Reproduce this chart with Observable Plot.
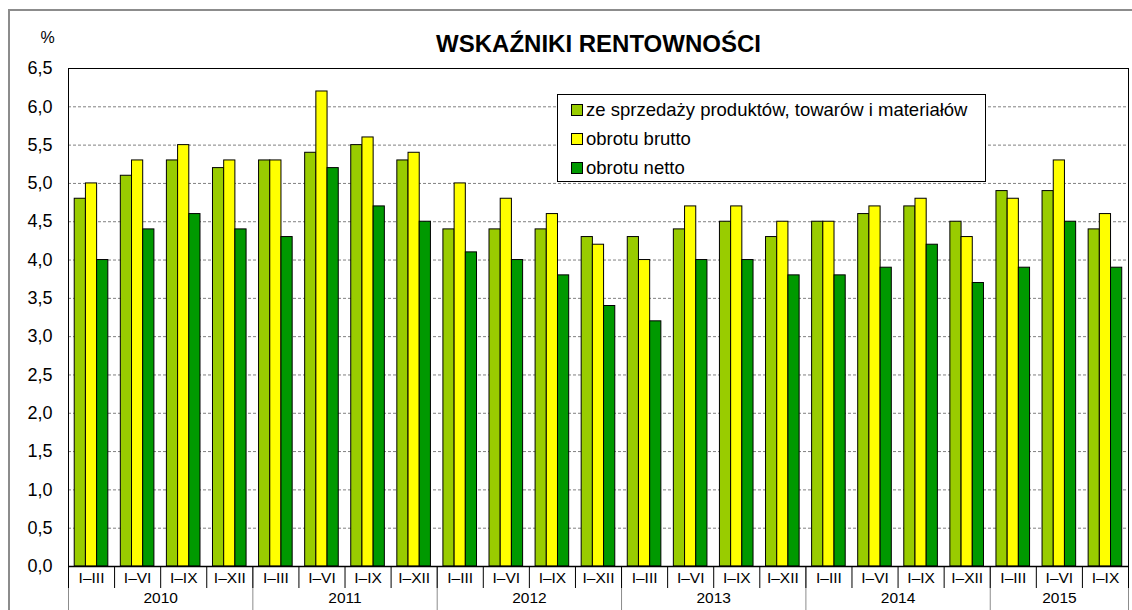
<!DOCTYPE html>
<html>
<head>
<meta charset="utf-8">
<script src="https://cdn.jsdelivr.net/npm/d3@7"></script>
<script src="https://cdn.jsdelivr.net/npm/@observablehq/plot@0.6"></script>
<style>
  html, body { margin: 0; padding: 0; background: #fff; }
  #wrap { position: relative; width: 1132px; height: 610px; overflow: hidden; font-family: "Liberation Sans", Arial, sans-serif; }
  #border { position: absolute; left: 8px; top: 9px; width: 1140px; height: 620px; border: 2px solid #8c8c8c; box-sizing: border-box; }
  #chart { position: absolute; left: 0; top: 0; }
  #legend { position: absolute; left: 557px; top: 94px; width: 429px; height: 88px; box-sizing: border-box;
            border: 1px solid #000; background: #fff; padding-top: 0px; }
  .row { height: 29px; display: flex; align-items: center; font-size: 18.5px; color: #000; padding-left: 13px; }
  .sw { width: 10px; height: 10px; border: 1px solid #000; margin-right: 3px; flex: none; }
</style>
</head>
<body>
<div id="wrap">
  <div id="border"></div>
  <div id="chart"></div>
  <div id="legend"></div>
</div>
<script>
const years = ["2010", "2011", "2012", "2013", "2014", "2015"];
const periodsPerYear = [4, 4, 4, 4, 4, 3];
const periodLabels = ["I–III", "I–VI", "I–IX", "I–XII"];
const seriesNames = ["ze sprzedaży produktów, towarów i materiałów", "obrotu brutto", "obrotu netto"];
const seriesColors = ["#99cc00", "#ffff00", "#009900"];
const sprzedaz = [4.8, 5.1, 5.3, 5.2, 5.3, 5.4, 5.5, 5.3, 4.4, 4.4, 4.4, 4.3, 4.3, 4.4, 4.5, 4.3, 4.5, 4.6, 4.7, 4.5, 4.9, 4.9, 4.4];
const brutto   = [5.0, 5.3, 5.5, 5.3, 5.3, 6.2, 5.6, 5.4, 5.0, 4.8, 4.6, 4.2, 4.0, 4.7, 4.7, 4.5, 4.5, 4.7, 4.8, 4.3, 4.8, 5.3, 4.6];
const netto    = [4.0, 4.4, 4.6, 4.4, 4.3, 5.2, 4.7, 4.5, 4.1, 4.0, 3.8, 3.4, 3.2, 4.0, 4.0, 3.8, 3.8, 3.9, 4.2, 3.7, 3.9, 4.5, 3.9];
const yTicks = [0, 0.5, 1, 1.5, 2, 2.5, 3, 3.5, 4, 4.5, 5, 5.5, 6, 6.5];
const title = "WSKAŹNIKI RENTOWNOŚCI";
const unit = "%";

// categories
const quarterLabels = [];
years.forEach((y, k) => { for (let j = 0; j < periodsPerYear[k]; j++) quarterLabels.push(periodLabels[j]); });
const n = quarterLabels.length;
const yearBounds = [0];
periodsPerYear.forEach(c => yearBounds.push(yearBounds[yearBounds.length - 1] + c));
const yearCenters = years.map((y, k) => (yearBounds[k] + yearBounds[k + 1]) / 2);
const quarterBounds = d3.range(0, n + 1);
const quarterCenters = d3.range(0, n).map(i => i + 0.5);

const seriesValues = [sprzedaz, brutto, netto];
const bars = [];
const groupOffset = 0.135, barW = 0.243;
seriesValues.forEach((vals, s) => vals.forEach((v, i) => {
  bars.push({series: seriesNames[s], x1: i + groupOffset + s * barW, x2: i + groupOffset + (s + 1) * barW, value: v});
}));

const fmt = v => d3.format(".1f")(v).replace(".", ",");

const chart = Plot.plot({
  width: 1132, height: 610,
  marginLeft: 68, marginRight: 4, marginTop: 68, marginBottom: 44,
  style: {fontFamily: "'Liberation Sans', Arial, sans-serif", background: "transparent", color: "#000"},
  x: {domain: [0, n], axis: null},
  y: {domain: [0, 6.5], axis: null},
  color: {domain: seriesNames, range: seriesColors},
  marks: [
    Plot.gridY(yTicks, {stroke: "#808080", strokeOpacity: 1, strokeDasharray: "3,2"}),
    Plot.rectY(bars, {x1: "x1", x2: "x2", y: "value", fill: "series", stroke: "#000", strokeWidth: 1}),
    Plot.axisY(yTicks, {tickSize: 0, tickPadding: 16, tickFormat: fmt, fontSize: 18, label: null}),
    Plot.axisX(yearBounds, {tickSize: 44, tickFormat: () => "", stroke: "#8c8c8c", label: null}),
    Plot.axisX(quarterBounds, {tickSize: 22, tickFormat: () => "", stroke: "#000", label: null}),
    Plot.axisX(quarterCenters, {tickSize: 0, tickPadding: 5, tickFormat: v => quarterLabels[Math.floor(v)], fontSize: 15.5, label: null}),
    Plot.axisX(yearCenters, {tickSize: 0, tickPadding: 25, tickFormat: v => years[yearCenters.indexOf(v)], fontSize: 15.5, label: null}),
    Plot.ruleY([0], {stroke: "#000", strokeWidth: 1.5}),
    Plot.frame({stroke: "#000"}),
    Plot.text([title], {frameAnchor: "top", dy: -24, lineAnchor: "middle", fontSize: 24, fontWeight: "bold", fill: "#000"}),
    Plot.text([unit], {frameAnchor: "top-left", dx: -21, dy: -30.5, lineAnchor: "middle", fontSize: 16, textAnchor: "middle", fill: "#000"})
  ]
});
document.getElementById("chart").appendChild(chart);

const legend = document.getElementById("legend");
seriesNames.forEach((name, i) => {
  const row = document.createElement("div");
  row.className = "row";
  const sw = document.createElement("span");
  sw.className = "sw";
  sw.style.background = seriesColors[i];
  const t = document.createElement("span");
  t.textContent = name;
  row.appendChild(sw); row.appendChild(t);
  legend.appendChild(row);
});
</script>
</body>
</html>
